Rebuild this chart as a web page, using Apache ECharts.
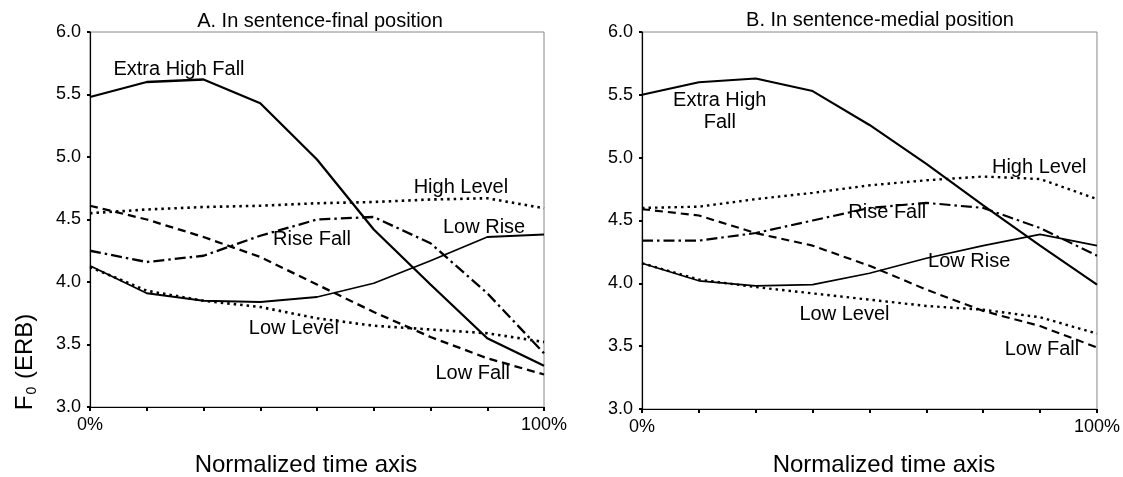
<!DOCTYPE html>
<html>
<head>
<meta charset="utf-8">
<script src="https://cdn.jsdelivr.net/npm/echarts@6/dist/echarts.min.js"></script>
<style>html,body{margin:0;padding:0;background:#fff;}#c{width:1123px;height:477px;}</style>
</head>
<body>
<div id="c"></div>
<script>
// Normalized time points (percent)
var timePoints = [0, 12.5, 25, 37.5, 50, 62.5, 75, 87.5, 100];
var yTicks = [3.0, 3.5, 4.0, 4.5, 5.0, 5.5, 6.0];
var panelTitles = ['A. In sentence-final position', 'B. In sentence-medial position'];
var seriesNames = ['Extra High Fall', 'High Level', 'Rise Fall', 'Low Rise', 'Low Level', 'Low Fall'];

// Panel A: sentence-final
var extraHighFallA = [5.48, 5.60, 5.62, 5.43, 4.98, 4.42, 3.98, 3.55, 3.33];
var highLevelA     = [4.55, 4.58, 4.60, 4.61, 4.63, 4.64, 4.66, 4.67, 4.59];
var riseFallA      = [4.25, 4.16, 4.21, 4.37, 4.50, 4.52, 4.31, 3.91, 3.43];
var lowRiseA       = [4.13, 3.91, 3.85, 3.84, 3.88, 3.99, 4.17, 4.36, 4.38];
var lowLevelA      = [4.12, 3.93, 3.85, 3.80, 3.71, 3.65, 3.62, 3.59, 3.52];
var lowFallA       = [4.61, 4.50, 4.36, 4.20, 3.98, 3.76, 3.56, 3.39, 3.26];

// Panel B: sentence-medial
var extraHighFallB = [5.50, 5.60, 5.63, 5.53, 5.26, 4.95, 4.62, 4.30, 3.99];
var highLevelB     = [4.60, 4.61, 4.67, 4.72, 4.78, 4.82, 4.85, 4.83, 4.67];
var riseFallB      = [4.34, 4.34, 4.40, 4.50, 4.60, 4.64, 4.60, 4.44, 4.22];
var lowRiseB       = [4.16, 4.02, 3.98, 3.99, 4.08, 4.20, 4.30, 4.39, 4.30];
var lowLevelB      = [4.16, 4.03, 3.97, 3.92, 3.87, 3.82, 3.79, 3.73, 3.60];
var lowFallB       = [4.59, 4.54, 4.40, 4.30, 4.14, 3.95, 3.78, 3.66, 3.49];

// In-plot label anchors (data coordinates: time %, F0)
var labelTextsA = ['Extra High Fall', 'High Level', 'Low Rise', 'Rise Fall', 'Low Level', 'Low Fall'];
var labelXA = [19.6, 81.7, 86.8, 48.9, 44.9, 84.3];
var labelYA = [5.70, 4.76, 4.44, 4.34, 3.63, 3.27];
var labelTextsB = ['Extra High\nFall', 'High Level', 'Rise Fall', 'Low Rise', 'Low Level', 'Low Fall'];
var labelXB = [17.1, 87.3, 53.9, 71.9, 44.5, 87.9];
var labelYB = [5.37, 4.92, 4.56, 4.17, 3.75, 3.47];

var FONT = 'Arial, "Liberation Sans", sans-serif';
function pairs(vals) { return vals.map(function (v, i) { return [timePoints[i], v]; }); }

var styles = [
  { width: 2.3, type: 'solid' },
  { width: 2.6, type: [2.5, 4] },
  { width: 2.3, type: [11, 4, 2.5, 4] },
  { width: 1.8, type: 'solid' },
  { width: 2.6, type: [2.5, 4] },
  { width: 2.3, type: [8, 5] }
];

var panels = [
  [extraHighFallA, highLevelA, riseFallA, lowRiseA, lowLevelA, lowFallA],
  [extraHighFallB, highLevelB, riseFallB, lowRiseB, lowLevelB, lowFallB]
];

var series = [];
panels.forEach(function (arrs, p) {
  arrs.forEach(function (vals, i) {
    series.push({
      name: seriesNames[i], type: 'line', xAxisIndex: p, yAxisIndex: p,
      data: pairs(vals), symbol: 'none', smooth: false, silent: true,
      lineStyle: { color: '#000', width: p === 1 ? styles[i].width * 0.92 : styles[i].width, type: styles[i].type, cap: 'butt' },
      z: 3
    });
  });
});

function labelSeries(p, texts, xs, ys) {
  return {
    type: 'scatter', xAxisIndex: p, yAxisIndex: p, symbolSize: 0, silent: true, z: 5,
    itemStyle: { color: '#000', opacity: 1 },
    data: texts.map(function (t, i) { return { name: t, value: [xs[i], ys[i]] }; }),
    label: { show: true, position: 'inside', formatter: '{b}', color: '#000', opacity: 1, textBorderWidth: 0, textBorderColor: 'transparent',
      fontSize: 20, fontFamily: FONT, lineHeight: 22, align: 'center', verticalAlign: 'middle' }
  };
}
series.push(labelSeries(0, labelTextsA, labelXA, labelYA));
series.push(labelSeries(1, labelTextsB, labelXB, labelYB));

function xAxisCfg(g) {
  return {
    type: 'value', gridIndex: g, min: 0, max: 100, interval: 12.5,
    axisLine: { show: true, onZero: false, lineStyle: { color: '#000', width: 1.2 } },
    axisTick: { show: true, length: 4, lineStyle: { color: '#000', width: 2 } },
    splitLine: { show: false },
    axisLabel: {
      color: '#000', fontSize: 18, fontFamily: FONT, margin: 9,
      formatter: function (v) { return v === 0 ? '0%' : (v === 100 ? '100%' : ''); }
    }
  };
}
function yAxisCfg(g) {
  return {
    type: 'value', gridIndex: g, min: yTicks[0], max: yTicks[yTicks.length - 1], interval: 0.5,
    axisLine: { show: true, lineStyle: { color: '#000', width: 1.2 } },
    axisTick: { show: true, length: 3, lineStyle: { color: '#000', width: 2 } },
    splitLine: { show: false },
    axisLabel: { color: '#000', fontSize: 18, fontFamily: FONT, margin: 9, formatter: function (v) { return v.toFixed(1); } }
  };
}

var chart = echarts.init(document.getElementById('c'), null, { renderer: 'canvas' });
chart.setOption({
  animation: false,
  backgroundColor: '#fff',
  grid: [
    { left: 90, right: 579, top: 32, bottom: 70, show: true, borderColor: '#888', borderWidth: 1, backgroundColor: 'transparent' },
    { left: 642, right: 25, top: 32, bottom: 68, show: true, borderColor: '#888', borderWidth: 1, backgroundColor: 'transparent' }
  ],
  xAxis: [xAxisCfg(0), xAxisCfg(1)],
  yAxis: [yAxisCfg(0), yAxisCfg(1)],
  series: series,
  graphic: [
    { type: 'text', x: 320, y: 21, style: { text: panelTitles[0], fill: '#000', fontSize: 20, fontFamily: FONT, textAlign: 'center', textVerticalAlign: 'middle' } },
    { type: 'text', x: 880, y: 20, style: { text: panelTitles[1], fill: '#000', fontSize: 20, fontFamily: FONT, textAlign: 'center', textVerticalAlign: 'middle' } },
    { type: 'text', x: 306, y: 465, style: { text: 'Normalized time axis', fill: '#000', fontSize: 24, fontFamily: FONT, textAlign: 'center', textVerticalAlign: 'middle' } },
    { type: 'text', x: 884, y: 465, style: { text: 'Normalized time axis', fill: '#000', fontSize: 24, fontFamily: FONT, textAlign: 'center', textVerticalAlign: 'middle' } },
    { type: 'text', x: 25, y: 362, rotation: Math.PI / 2,
      style: { text: '{a|F}{b|0}{a| (ERB)}', fill: '#000', fontFamily: FONT, textAlign: 'center', textVerticalAlign: 'middle',
        rich: { a: { fontSize: 24, fontFamily: FONT, fill: '#000', lineHeight: 28 }, b: { fontSize: 14, fontFamily: FONT, fill: '#000', lineHeight: 28, verticalAlign: 'bottom', padding: [0, 1, 0, 1] } } } }
  ]
});
</script>
</body>
</html>
